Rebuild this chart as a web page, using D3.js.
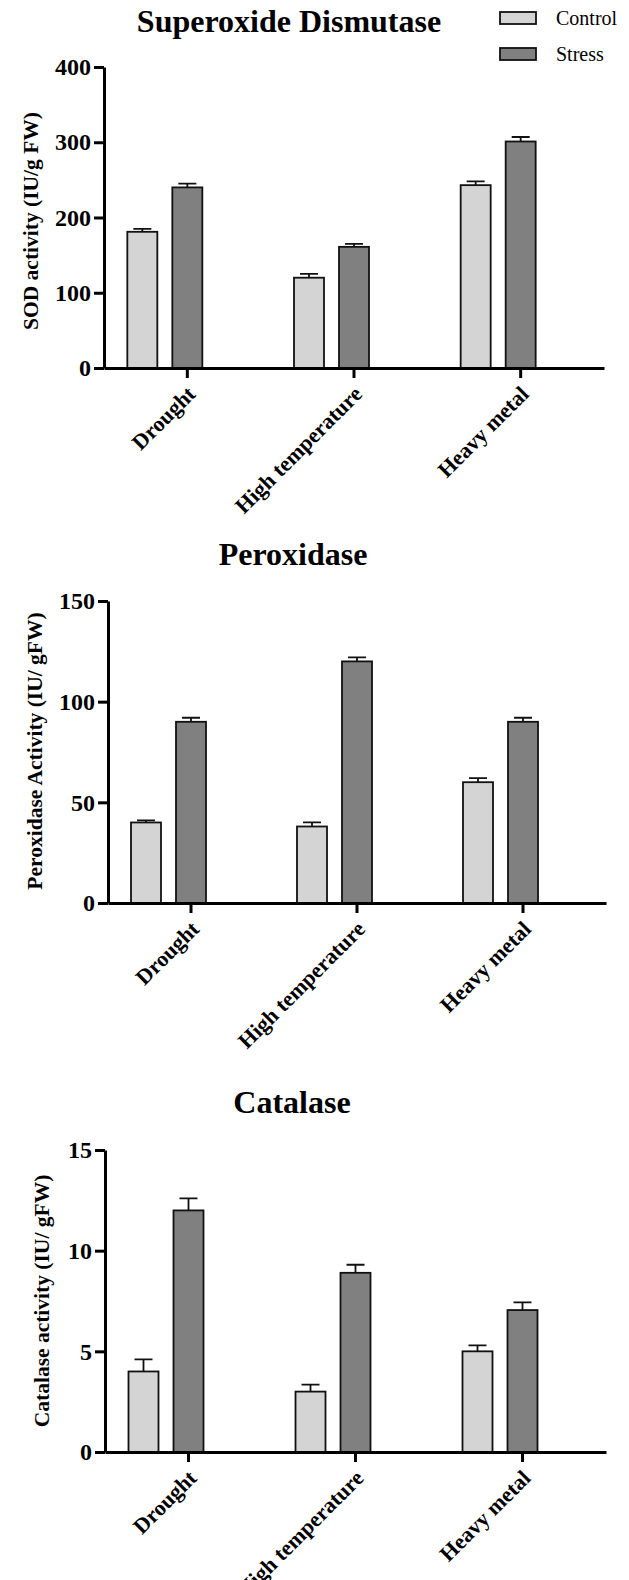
<!DOCTYPE html>
<html>
<head>
<meta charset="utf-8">
<script src="https://cdn.jsdelivr.net/npm/d3@7"></script>
<style>
  body { margin: 0; background: #fff; }
  svg { display: block; font-family: "Liberation Serif", "Times New Roman", serif; }
</style>
</head>
<body>
<svg id="chart" width="629" height="1580"></svg>
<script>
let categories = ["Drought", "High temperature", "Heavy metal"];
let series = ["Control", "Stress"];
let colors = ["#d4d4d4", "#808080"];

// superoxide dismutase
let sodControl = [181, 120, 243];
let sodControlErr = [4, 5, 5];
let sodStress = [240, 161, 301];
let sodStressErr = [5, 4, 6];
let sodTicks = [0, 100, 200, 300, 400];

// peroxidase
let podControl = [40, 38, 60];
let podControlErr = [1, 2, 2];
let podStress = [90, 120, 90];
let podStressErr = [2, 2, 2];
let podTicks = [0, 50, 100, 150];

// catalase
let catControl = [4, 3, 5];
let catControlErr = [0.6, 0.35, 0.3];
let catStress = [12, 8.9, 7.05];
let catStressErr = [0.6, 0.4, 0.38];
let catTicks = [0, 5, 10, 15];

const svg = d3.select("#chart");
const barWidth = 30;

function drawPanel(opt) {
  const g = svg.append("g");

  const x = d3.scaleBand()
    .domain(categories)
    .range([opt.left, opt.right])
    .padding(0);

  // stress bar sits on the category tick, control bar to its left
  const x1 = d3.scaleBand()
    .domain(series)
    .range([-67.5, 22.5]);

  const y = d3.scaleLinear()
    .domain([0, opt.max])
    .range([opt.bottom, opt.top]);

  const rows = [];
  categories.forEach(function (c, i) {
    rows.push({ cat: c, s: 0, value: opt.control[i], err: opt.controlErr[i] });
    rows.push({ cat: c, s: 1, value: opt.stress[i], err: opt.stressErr[i] });
  });
  const cx = function (d) {
    return x(d.cat) + x.bandwidth() / 2 + x1(series[d.s]) + x1.bandwidth() / 2;
  };

  // error bars (upper only)
  g.append("g")
    .selectAll("path")
    .data(rows)
    .enter()
    .append("path")
    .attr("d", function (d) {
      const c = cx(d);
      const t = y(d.value + d.err);
      return "M" + c + "," + y(d.value) + "V" + t + "M" + (c - 9) + "," + t + "H" + (c + 9);
    })
    .style("fill", "none")
    .style("stroke", "#111")
    .style("stroke-width", "1.8px");

  g.append("g")
    .selectAll("rect")
    .data(rows)
    .enter()
    .append("rect")
    .attr("x", function (d) { return cx(d) - barWidth / 2; })
    .attr("y", function (d) { return y(d.value); })
    .attr("width", barWidth)
    .attr("height", function (d) { return y(0) - y(d.value); })
    .style("fill", function (d) { return colors[d.s]; })
    .style("stroke", "#111")
    .style("stroke-width", "1.8px");

  // y axis
  const ya = g.append("g")
    .attr("transform", "translate(" + opt.left + ",0)")
    .call(d3.axisLeft(y).tickValues(opt.ticks).tickSize(10).tickSizeOuter(0).tickPadding(3));
  ya.select(".domain").style("stroke", "#000").style("stroke-width", "3px");
  ya.selectAll(".tick line").style("stroke", "#000").style("stroke-width", "3px");
  ya.selectAll(".tick text")
    .style("font-family", "Liberation Serif")
    .style("font-size", "24px")
    .style("font-weight", "bold")
    .style("fill", "#000");

  // x axis
  const xa = g.append("g")
    .attr("transform", "translate(0," + opt.bottom + ")")
    .call(d3.axisBottom(x).tickSize(10).tickSizeOuter(0));
  xa.select(".domain").style("stroke", "#000").style("stroke-width", "3px");
  xa.selectAll(".tick line").style("stroke", "#000").style("stroke-width", "3px");
  xa.selectAll(".tick text")
    .attr("transform", "translate(4,22) rotate(-45)")
    .attr("text-anchor", "end")
    .attr("y", 0)
    .attr("dy", "0.35em")
    .style("font-family", "Liberation Serif")
    .style("font-size", "22px")
    .style("font-weight", "bold")
    .style("fill", "#000");

  // title
  g.append("text")
    .attr("x", opt.titleX)
    .attr("y", opt.titleY)
    .attr("text-anchor", "middle")
    .style("font-size", "32px")
    .style("font-weight", "bold")
    .text(opt.title);

  // y label
  g.append("text")
    .attr("transform", "translate(" + opt.labelX + "," + opt.labelY + ") rotate(-90)")
    .attr("text-anchor", "middle")
    .style("font-size", "21.5px")
    .style("font-weight", "bold")
    .text(opt.ylabel);
}

drawPanel({
  title: "Superoxide Dismutase", titleX: 289, titleY: 32,
  ylabel: "SOD activity (IU/g FW)", labelX: 38, labelY: 221,
  left: 104, right: 604, top: 67, bottom: 368, max: 400,
  ticks: sodTicks,
  control: sodControl, controlErr: sodControlErr,
  stress: sodStress, stressErr: sodStressErr
});

drawPanel({
  title: "Peroxidase", titleX: 293, titleY: 565,
  ylabel: "Peroxidase Activity (IU/ gFW)", labelX: 42, labelY: 751,
  left: 108, right: 606, top: 601, bottom: 903, max: 150,
  ticks: podTicks,
  control: podControl, controlErr: podControlErr,
  stress: podStress, stressErr: podStressErr
});

drawPanel({
  title: "Catalase", titleX: 292, titleY: 1113,
  ylabel: "Catalase activity (IU/ gFW)", labelX: 49, labelY: 1301,
  left: 105, right: 606, top: 1150, bottom: 1452, max: 15,
  ticks: catTicks,
  control: catControl, controlErr: catControlErr,
  stress: catStress, stressErr: catStressErr
});

// legend
const legend = svg.append("g")
  .selectAll("g")
  .data(series)
  .enter()
  .append("g")
  .attr("transform", function (d, i) { return "translate(500," + (12 + i * 36) + ")"; });

legend.append("rect")
  .attr("width", 36)
  .attr("height", 12)
  .style("fill", function (d, i) { return colors[i]; })
  .style("stroke", "#111")
  .style("stroke-width", "1.8px");

legend.append("text")
  .attr("x", 56)
  .attr("y", 13)
  .style("font-size", "20px")
  .text(function (d) { return d; });
</script>
</body>
</html>
